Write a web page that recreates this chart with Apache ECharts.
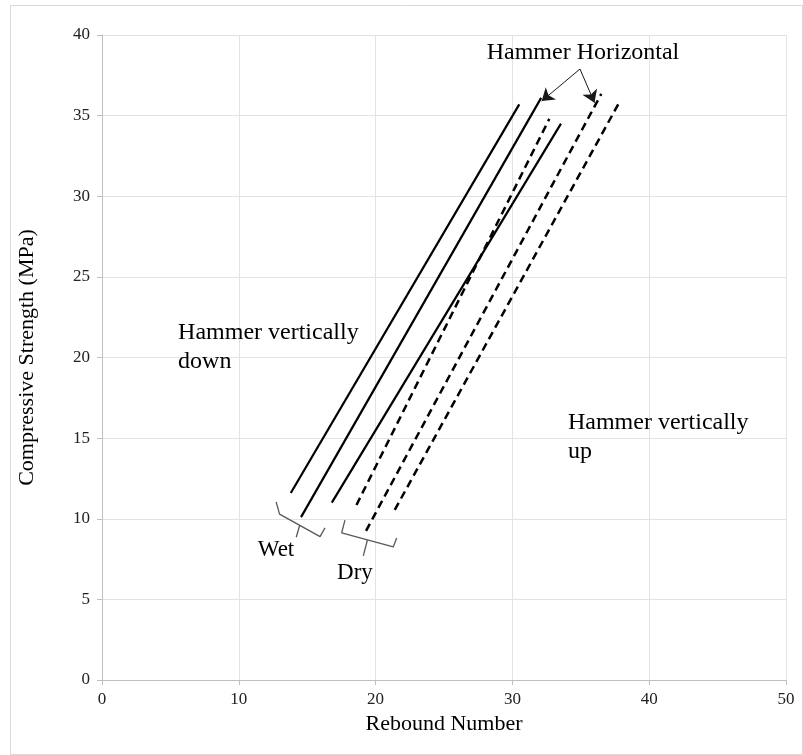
<!DOCTYPE html>
<html>
<head>
<meta charset="utf-8">
<script src="https://cdn.jsdelivr.net/npm/echarts@6/dist/echarts.min.js"></script>
<style>
html,body{margin:0;padding:0;background:#fff;}
#chart{width:803px;height:755px;}
</style>
</head>
<body>
<div id="chart"></div>
<script>
// ---- data ----
const lineNames = ['Wet 1', 'Wet 2', 'Wet 3', 'Dry 1', 'Dry 2', 'Dry 3'];
const lineCondition = ['Wet', 'Wet', 'Wet', 'Dry', 'Dry', 'Dry'];
const startRebound = [13.8, 14.55, 16.8, 18.6, 19.3, 21.4];
const startStrength = [11.6, 10.1, 11.0, 10.85, 9.25, 10.55];
const endRebound = [30.5, 32.1, 33.55, 32.7, 36.5, 37.8];
const endStrength = [35.7, 36.1, 34.5, 34.8, 36.35, 35.8];

const xTicks = [0, 10, 20, 30, 40, 50];
const yTicks = [0, 5, 10, 15, 20, 25, 30, 35, 40];

// annotations (data coordinates)
const wetBrace = [[12.73, 11.04], [12.98, 10.29], [15.94, 8.89], [16.3, 9.43]];
const wetBraceTick = [[14.45, 9.6], [14.2, 8.85]];
const dryBrace = [[17.76, 9.92], [17.52, 9.13], [21.29, 8.25], [21.54, 8.81]];
const dryBraceTick = [[19.4, 8.68], [19.1, 7.7]];
const arrowOrigin = [34.94, 37.89];
const arrowTips = [[32.14, 35.9], [36.0, 35.8]];
const annotationTexts = [
  {text: 'Hammer Horizontal', at: [35.16, 38.88], align: 'center', vAlign: 'middle', size: 24},
  {text: 'Hammer vertically\ndown', at: [5.56, 22.45], align: 'left', vAlign: 'top', size: 24},
  {text: 'Hammer vertically\nup', at: [34.06, 16.87], align: 'left', vAlign: 'top', size: 24},
  {text: 'Wet', at: [12.72, 8.06], align: 'center', vAlign: 'middle', size: 23},
  {text: 'Dry', at: [18.49, 6.64], align: 'center', vAlign: 'middle', size: 23}
];

const FONT = '"Liberation Serif", "Times New Roman", serif';
const chart = echarts.init(document.getElementById('chart'), null, {renderer: 'canvas'});

const series = [];
lineNames.forEach(function (name, i) {
  const dashed = lineCondition[i] === 'Dry';
  series.push({
    name: name,
    type: 'line',
    data: [[startRebound[i], startStrength[i]], [endRebound[i], endStrength[i]]],
    showSymbol: false,
    symbol: 'none',
    silent: true,
    lineStyle: {color: '#000', width: dashed ? 2.5 : 2.2, type: dashed ? [8, 5] : 'solid', cap: 'butt'},
    z: 3
  });
});

function thinLine(data) {
  return {type: 'line', data: data, symbol: 'none', silent: true,
    lineStyle: {color: '#595959', width: 1.3}, z: 4};
}
series.push(thinLine(wetBrace));
series.push(thinLine(wetBraceTick));
series.push(thinLine(dryBrace));
series.push(thinLine(dryBraceTick));

series.push({
  type: 'lines',
  coordinateSystem: 'cartesian2d',
  silent: true,
  symbol: ['none', 'arrow'],
  symbolSize: 12,
  lineStyle: {color: '#1a1a1a', width: 1, opacity: 1, curveness: 0},
  data: arrowTips.map(function (t) { return {coords: [arrowOrigin, t]}; }),
  z: 5
});

series.push({
  type: 'scatter',
  symbolSize: 0,
  silent: true,
  itemStyle: {opacity: 1},
  data: annotationTexts.map(function (a) {
    return {
      value: a.at,
      label: {
        show: true, position: [0, 0], formatter: a.text,
        align: a.align, verticalAlign: a.vAlign,
        fontFamily: FONT, fontSize: a.size, color: '#000', lineHeight: Math.round(a.size * 1.2)
      }
    };
  }),
  z: 6
});

chart.setOption({
  animation: false,
  backgroundColor: '#fff',
  grid: {left: 102, right: 17, top: 35, bottom: 75, containLabel: false},
  xAxis: {
    type: 'value', min: 0, max: 50, interval: 10,
    name: 'Rebound Number', nameLocation: 'middle', nameGap: 29,
    nameTextStyle: {fontFamily: FONT, fontSize: 22, color: '#000'},
    axisLine: {show: true, lineStyle: {color: '#bfbfbf', width: 1}},
    axisTick: {show: true, length: 5, lineStyle: {color: '#bfbfbf'}},
    axisLabel: {fontFamily: FONT, fontSize: 17, color: '#222', margin: 11,
      formatter: function (v) { return xTicks.indexOf(v) >= 0 ? String(v) : ''; }},
    splitLine: {show: true, lineStyle: {color: '#e3e3e3', width: 1}}
  },
  yAxis: {
    type: 'value', min: 0, max: 40, interval: 5,
    name: 'Compressive Strength (MPa)', nameLocation: 'middle', nameGap: 64, nameRotate: 90,
    nameTextStyle: {fontFamily: FONT, fontSize: 22, color: '#000'},
    axisLine: {show: true, lineStyle: {color: '#bfbfbf', width: 1}},
    axisTick: {show: true, length: 5, lineStyle: {color: '#bfbfbf'}},
    axisLabel: {fontFamily: FONT, fontSize: 17, color: '#222', margin: 12,
      formatter: function (v) { return yTicks.indexOf(v) >= 0 ? String(v) : ''; }},
    splitLine: {show: true, lineStyle: {color: '#e3e3e3', width: 1}}
  },
  graphic: [{
    type: 'rect', left: 8, top: 3, silent: true,
    shape: {width: 792, height: 749},
    style: {fill: 'none', stroke: '#d9d9d9', lineWidth: 1}
  }],
  series: series
});
</script>
</body>
</html>
